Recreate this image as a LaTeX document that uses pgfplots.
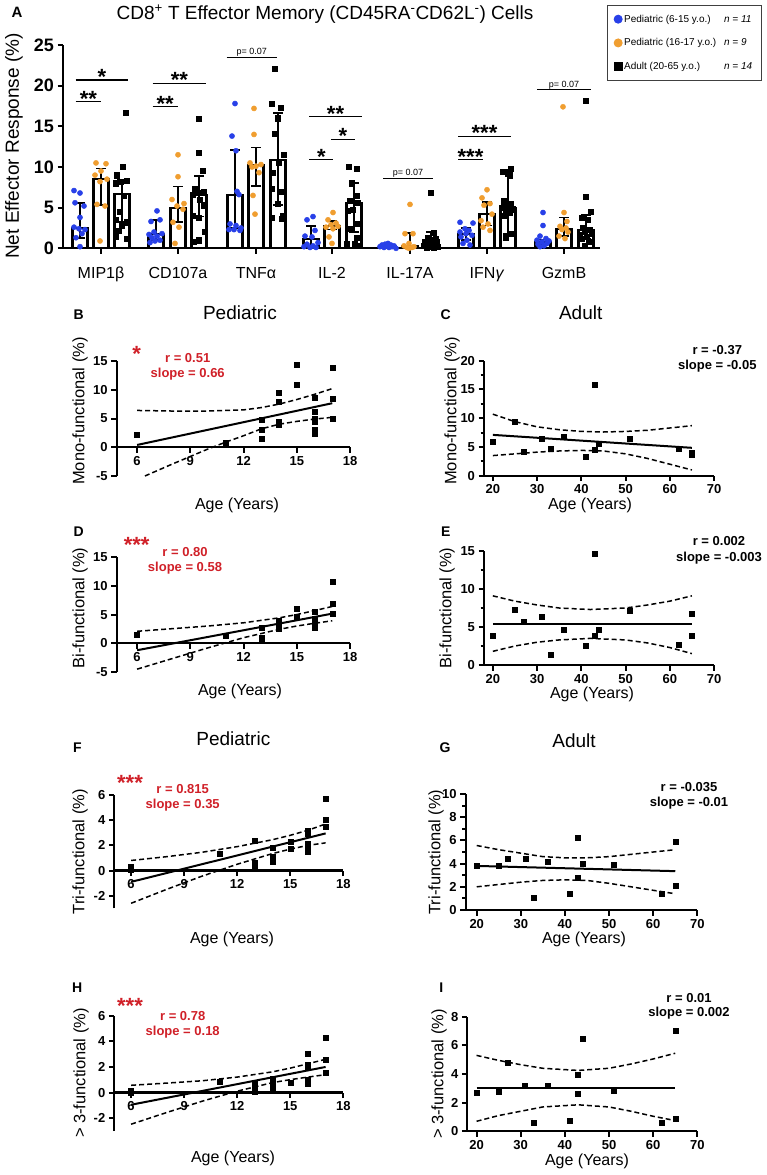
\documentclass[border=0pt]{standalone}
\usepackage{pgfplots}
\pgfplotsset{compat=1.18}
\usepackage{fontspec}
\setmainfont{Liberation Sans}
\definecolor{pblue}{RGB}{40,64,232}
\definecolor{porange}{RGB}{240,158,48}
\definecolor{sigred}{RGB}{208,32,40}
\newcommand{\fs}[1]{\fontsize{#1}{#1}\selectfont}
\pgfplotsset{
 gp/.style={scale only axis, clip=false,
   axis x line*=bottom, axis y line*=left,
   axis line style={line width=2.3pt,-},
   every inner x axis line/.append style={-},
   every outer x axis line/.append style={-},
   every inner y axis line/.append style={-},
   every outer y axis line/.append style={-},
   tick style={line width=2pt, black},
   major tick length=5.5pt, minor tick length=3.5pt, tick align=outside,
   /pgf/number format/assume math mode=true,
   tick label style={font=\fs{13}\bfseries},
   hide obscured x ticks=false, hide obscured y ticks=false,
 },
 sq/.style={only marks, mark=square*, mark size=2.5pt, black},
 reg/.style={no marks, line width=2pt, black},
 ci/.style={no marks, line width=1.5pt, black, dash pattern=on 5pt off 3pt},
 barA/.style={ybar, bar shift=0pt, bar width=15, fill=white, draw=black, line width=2.2pt, forget plot,
  error bars/.cd, y dir=both, y explicit, error bar style={line width=1.7pt, black},
  error mark options={rotate=90, mark size=5pt, line width=1.7pt, black}},
}
\newcommand{\sig}[4]{\draw[line width=1.1pt] (axis cs:#1,#3) -- (axis cs:#2,#3);
  \node[anchor=base, font=\fs{22}\bfseries, inner sep=0pt, yshift=-4.6pt] at (axis cs:{(#1+#2)/2},#3) {#4};}
\newcommand{\pval}[3]{\draw[line width=0.9pt] (axis cs:#1,#3) -- (axis cs:#2,#3);
  \node[anchor=base, font=\fs{9}, inner sep=0pt, yshift=2.5pt] at (axis cs:{(#1+#2)/2},#3) {p= 0.07};}
\begin{document}
\begin{tikzpicture}
\path[use as bounding box] (0pt,0pt) rectangle (767pt,-1175pt);
% ---------------- Panel A ----------------
\node[font=\fs{15}\bfseries] at (17pt,-12.5pt) {A};
\node[font=\fs{19}] at (325pt,-14pt) {CD8\textsuperscript{+} T Effector Memory (CD45RA\textsuperscript{-}CD62L\textsuperscript{-}) Cells};
\node[font=\fs{19}, rotate=90] at (14pt,-146pt) {Net Effector Response (\%)};
\begin{axis}[gp, at={(63pt,-248.3pt)}, anchor=south west, width=537pt, height=203.3pt,
  xmin=63, xmax=600, ymin=0, ymax=25, ytick={0,5,...,25},
  xtick={101,178,256,332,410,487,564},
  xticklabels={MIP1β, CD107a, TNFα, IL-2, IL-17A, IFN\textit{γ}, GzmB},
  xticklabel style={font=\fs{16}\mdseries, yshift=-10pt},
  yticklabel style={font=\fs{18}\bfseries},
  legend style={at={(1.0125,1.195)}, anchor=north west, draw=black!75, line width=0.9pt,
    font=\fs{10}, row sep=11pt, inner sep=7pt, cells={anchor=west}},
  every legend image post/.append style={mark size=4pt},
  legend cell align=left]
\addplot[barA]
  coordinates {(80,2.46) += (0,3.14) -= (0,1.16) (156,1.72) += (0,1.76) -= (0,0.72)
  (235,6.6) += (0,5.5) -= (0,4.1) (311,1.15) += (0,1.55) -= (0,0.85)
  (388,0.3) += (0,0.2) -= (0,0.2) (466,1.76) += (0,0.74) -= (0,0.76)
  (543,0.8) += (0,0.3) -= (0,0.4)};
\addplot[barA]
  coordinates {(101,8.52) += (0,1.28) -= (0,3.22) (178,5.0) += (0,2.6) -= (0,1.8)
  (256,10.2) += (0,2.2) -= (0,2.5) (332,2.75) += (0,0.6) -= (0,0.45)
  (410,0.3) += (0,1.55) -= (0,0.2) (487,4.2) += (0,1.5) -= (0,1.4)
  (564,2.4) += (0,1.4) -= (0,0.9)};
\addplot[barA]
  coordinates {(122,6.64) += (0,1.76) -= (0,3.44) (199,6.56) += (0,2.34) -= (0,2.66)
  (278,10.9) += (0,5.7) -= (0,5.6) (354,5.6) += (0,2.4) -= (0,3.6)
  (431,1.0) += (0,1.0) -= (0,0.7) (508,4.9) += (0,4.7) -= (0,3.1)
  (586,2.25) += (0,1.85) -= (0,1.05)};
\addplot[only marks, mark=*, mark size=2.6pt, color=pblue] coordinates {
 (74,7.1)(80,6.8)(75,5.6)(84,5.2)(80,3.8)(74,2.6)(79,2.4)(85,2.3)(82,1.8)(76,1.3)(80,0.2)
 (157,4.6)(160,3.5)(151,3.3)(154,2.0)(162,1.8)(149,1.7)(157,1.5)(152,1.3)(160,1.0)(155,0.9)(150,0.7)
 (235,17.8)(232,13.8)(236,12.0)(237,7.0)(239,6.6)(230,3.0)(236,2.8)(241,2.5)(229,2.3)(234,2.3)(240,2.2)
 (313,3.9)(307,3.5)(315,2.2)(305,1.5)(312,1.4)(318,0.7)(307,0.5)(313,0.3)(304,0.2)(316,0.1)(310,0.1)
 (388,0.6)(385,0.5)(391,0.4)(382,0.4)(394,0.3)(387,0.3)(380,0.2)(392,0.2)(384,0.1)(389,0.1)(396,0.0)
 (460,3.2)(473,3.1)(465,2.4)(469,2.2)(460,2.0)(466,1.8)(472,1.6)(461,1.4)(467,1.0)(463,0.6)(470,0.4)
 (543,4.4)(543,2.8)(540,1.5)(546,1.2)(537,1.0)(549,0.9)(542,0.8)(547,0.6)(538,0.5)(544,0.3)(540,0.2)};
\addlegendentry{\makebox[100pt][l]{Pediatric (6-15 y.o.)}\textit{n = 11}}
\addplot[only marks, mark=*, mark size=2.6pt, color=porange] coordinates {
 (96,10.5)(106,10.4)(101,9.5)(95,9.0)(107,8.5)(100,8.2)(97,5.4)(105,5.2)(100,0.9)
 (178,11.5)(178,8.8)(172,6.0)(184,5.5)(177,5.2)(183,4.8)(173,3.2)(179,2.6)(175,0.6)
 (254,17.2)(254,14.0)(250,10.5)(261,10.3)(256,10.1)(252,10.0)(259,9.3)(253,6.5)(255,4.2)
 (333,4.4)(328,3.5)(336,3.1)(331,2.9)(338,2.7)(326,2.6)(333,2.4)(329,1.4)(332,0.6)
 (410,5.4)(405,1.8)(413,1.8)(409,0.6)(404,0.3)(414,0.2)(407,0.1)(412,0.1)(409,0.0)
 (487,7.2)(482,6.2)(490,5.5)(484,5.3)(492,4.2)(481,3.4)(488,3.0)(483,2.6)(490,2.2)
 (563,17.4)(564,4.4)(567,3.3)(560,2.7)(566,2.5)(562,2.3)(568,2.0)(559,1.5)(565,1.2)};
\addlegendentry{\makebox[100pt][l]{Pediatric (16-17 y.o.)}\textit{n = 9}}
\addplot[only marks, mark=square*, mark size=2.6pt, color=black] coordinates {
 (126,16.7)(123,10.0)(117,9.0)(127,8.3)(121,8.2)(116,8.0)(124,6.5)(120,4.5)(116,3.5)(127,3.2)(122,2.8)(119,2.2)(116,1.5)(127,1.2)
 (199,15.9)(199,11.8)(203,9.5)(195,7.3)(204,6.9)(199,6.8)(193,6.6)(200,6.0)(204,5.3)(193,4.0)(199,3.8)(205,2.0)(199,1.0)(194,0.8)
 (275,22.1)(272,17.8)(281,17.3)(278,16.0)(275,14.1)(284,11.5)(279,10.5)(273,9.3)(272,7.3)(282,7.0)(278,5.5)(283,4.0)(272,3.8)(282,3.6)
 (349,10.0)(357,9.8)(352,8.0)(357,6.5)(350,5.9)(358,5.6)(353,4.7)(348,4.6)(358,3.0)(351,2.4)(357,1.3)(347,0.6)(355,0.5)(360,0.3)
 (431,6.8)(434,1.9)(428,1.3)(436,1.2)(431,1.0)(425,0.8)(437,0.7)(429,0.5)(434,0.4)(424,0.3)(431,0.2)(438,0.2)(427,0.1)(434,0.1)
 (511,9.8)(503,9.4)(508,9.2)(510,9.0)(504,5.8)(511,5.5)(507,5.2)(502,5.0)(513,4.8)(506,4.6)(510,4.4)(504,4.0)(512,1.8)(506,1.3)
 (586,18.2)(586,6.3)(591,4.5)(582,3.8)(588,3.5)(583,2.5)(590,2.3)(585,2.0)(592,1.8)(580,1.6)(587,1.4)(582,1.2)(589,0.8)(585,0.3)};
\addlegendentry{\makebox[100pt][l]{Adult (20-65 y.o.)}\textit{n = 14}}
\sig{75.7}{101}{18.0}{**}
\sig{75.7}{128}{20.7}{*}
\sig{152.7}{177.7}{17.4}{**}
\sig{152.7}{206}{20.3}{**}
\pval{226.7}{276.7}{23.5}
\sig{309.3}{333.3}{10.9}{*}
\sig{331}{355}{13.4}{*}
\sig{309.3}{361.7}{16.2}{**}
\pval{383}{433}{8.6}
\sig{458.3}{482.7}{10.9}{***}
\sig{458.3}{510.7}{13.8}{***}
\pval{537.3}{590.7}{19.5}
\end{axis}
% ---------------- Panel B ----------------
\node[font=\fs{14}\bfseries] at (78.7pt,-315pt) {B};
\node[font=\fs{19}] at (240pt,-312.7pt) {Pediatric};
\node[font=\fs{16.5}, rotate=90] at (80pt,-411pt) {Mono-functional (\%)};
\node[font=\fs{16}] at (237pt,-505pt) {Age (Years)};
\node[anchor=base, font=\fs{22}\bfseries, text=sigred, inner sep=0pt] at (136.7pt,-361pt) {*};
\node[font=\fs{13}\bfseries, text=sigred] at (187.7pt,-358.3pt) {r = 0.51};
\node[font=\fs{13}\bfseries, text=sigred] at (187.7pt,-374pt) {slope = 0.66};
\begin{axis}[gp, at={(116.7pt,-476pt)}, anchor=south west, width=233.3pt, height=115pt,
  xmin=4.85, xmax=18, ymin=-5, ymax=15, xtick={6,9,...,18}, ytick={-5,0,...,15}, axis x line*=middle]
\addplot[ci] coordinates {(6,6.4)(8,6.3)(10,6.3)(12,6.5)(13,6.9)(14,7.5)(15,8.3)(16,9.2)(17,10.2)};
\addplot[ci] coordinates {(6.44,-5)(8,-2.9)(10,-0.3)(11,0.9)(12,2.0)(13,3.2)(14,4.0)(15,4.5)(16,4.9)(17,5.2)};
\addplot[reg] coordinates {(6,0.4)(17,7.66)};
\addplot[sq] coordinates {(6,2.2)(11,0.8)(13,4.8)(13,3.1)(13,1.5)(14,9.5)(14,8.0)(14,4.5)(14,4.0)(15,14.4)(15,10.9)(16,8.6)(16,6.1)(16,5.0)(16,4.5)(16,3.0)(16,2.4)(17,13.8)(17,8.5)(17,4.9)};
\end{axis}
% ---------------- Panel C ----------------
\node[font=\fs{14}\bfseries] at (445.7pt,-315pt) {C};
\node[font=\fs{19}] at (580.7pt,-312.7pt) {Adult};
\node[font=\fs{16.5}, rotate=90] at (452pt,-411pt) {Mono-functional (\%)};
\node[font=\fs{16}] at (590pt,-505pt) {Age (Years)};
\node[font=\fs{13}\bfseries] at (717.3pt,-350pt) {r = -0.37};
\node[font=\fs{13}\bfseries] at (717.3pt,-366pt) {slope = -0.05};
\begin{axis}[gp, at={(484pt,-475.7pt)}, anchor=south west, width=230pt, height=115pt,
  xmin=18, xmax=70, ymin=0, ymax=20, xtick={20,30,...,70}, ytick={0,5,...,20}, minor y tick num=1]
\addplot[ci] coordinates {(20,10.7)(25,9.4)(30,8.5)(35,8.0)(40,7.7)(45,7.6)(50,7.7)(55,7.9)(60,8.3)(65,8.7)};
\addplot[ci] coordinates {(20,3.5)(25,3.8)(30,4.1)(35,4.3)(40,4.4)(45,4.3)(50,3.8)(55,3.0)(60,2.0)(65,1.0)};
\addplot[reg] coordinates {(20,7.1)(65,4.85)};
\addplot[sq] coordinates {(20,5.86)(25,9.4)(27,4.1)(31,6.4)(33,4.65)(36,6.7)(41,3.3)(43,15.9)(43,4.5)(44,5.6)(51,6.4)(62,4.7)(65,4.0)(65,3.6)};
\end{axis}
% ---------------- Panel D ----------------
\node[font=\fs{14}\bfseries] at (78.7pt,-531.7pt) {D};
\node[font=\fs{16.5}, rotate=90] at (80pt,-608pt) {Bi-functional (\%)};
\node[font=\fs{16}] at (240pt,-691.7pt) {Age (Years)};
\node[anchor=base, font=\fs{22}\bfseries, text=sigred, inner sep=0pt] at (136.7pt,-552pt) {***};
\node[font=\fs{13}\bfseries, text=sigred] at (185pt,-551.7pt) {r = 0.80};
\node[font=\fs{13}\bfseries, text=sigred] at (185pt,-568.3pt) {slope = 0.58};
\begin{axis}[gp, at={(116.7pt,-672pt)}, anchor=south west, width=233.3pt, height=114.7pt,
  xmin=4.85, xmax=18, ymin=-5, ymax=15, xtick={6,9,...,18}, ytick={-5,0,...,15}, axis x line*=middle]
\addplot[ci] coordinates {(6,2.1)(8,2.56)(10,3.02)(12,3.58)(14,4.44)(15,5.02)(16,5.7)(17,6.43)};
\addplot[ci] coordinates {(6,-4.5)(8,-2.64)(10,-0.78)(12,0.98)(14,2.44)(15,3.02)(16,3.5)(17,3.93)};
\addplot[reg] coordinates {(6,-1.2)(17,5.18)};
\addplot[sq] coordinates {(6,1.45)(11,1.4)(13,2.8)(13,1.0)(13,0.6)(14,4.0)(14,3.5)(14,3.0)(14,2.5)(15,6.1)(15,4.7)(16,5.5)(16,4.3)(16,4.0)(16,3.8)(16,3.3)(16,2.8)(17,10.7)(17,6.9)(17,5.1)};
\end{axis}
% ---------------- Panel E ----------------
\node[font=\fs{14}\bfseries] at (445.7pt,-531.7pt) {E};
\node[font=\fs{16.5}, rotate=90] at (447pt,-608pt) {Bi-functional (\%)};
\node[font=\fs{16}] at (592pt,-694pt) {Age (Years)};
\node[font=\fs{13}\bfseries] at (719pt,-541pt) {r = 0.002};
\node[font=\fs{13}\bfseries] at (719pt,-557.7pt) {slope = -0.003};
\begin{axis}[gp, at={(484pt,-665pt)}, anchor=south west, width=230pt, height=114pt,
  xmin=18, xmax=70, ymin=0, ymax=15, xtick={20,30,...,70}, ytick={0,5,...,15}, minor y tick num=1]
\addplot[ci] coordinates {(20,9.1)(25,8.4)(30,7.9)(35,7.5)(42,7.3)(50,7.5)(55,7.9)(60,8.4)(65,9.1)};
\addplot[ci] coordinates {(20,1.8)(25,2.5)(30,3.0)(35,3.3)(42,3.5)(50,3.3)(55,2.9)(60,2.3)(65,1.5)};
\addplot[reg] coordinates {(20,5.4)(65,5.4)};
\addplot[sq] coordinates {(20,3.86)(25,7.3)(27,5.7)(31,6.4)(33,1.4)(36,4.7)(41,2.5)(43,14.7)(43,3.8)(44,4.6)(51,7.1)(62,2.7)(65,6.7)(65,3.8)};
\end{axis}
% ---------------- Panel F ----------------
\node[font=\fs{14}\bfseries] at (77.3pt,-747.3pt) {F};
\node[font=\fs{19}] at (233.3pt,-738.3pt) {Pediatric};
\node[font=\fs{16.5}, rotate=90] at (80pt,-851.7pt) {Tri-functional (\%)};
\node[font=\fs{16}] at (232pt,-939.3pt) {Age (Years)};
\node[anchor=base, font=\fs{22}\bfseries, text=sigred, inner sep=0pt] at (130pt,-790pt) {***};
\node[font=\fs{13}\bfseries, text=sigred] at (182.7pt,-789.3pt) {r = 0.815};
\node[font=\fs{13}\bfseries, text=sigred] at (182.7pt,-805pt) {slope = 0.35};
\begin{axis}[gp, at={(114.3pt,-908.3pt)}, anchor=south west, width=229pt, height=113.3pt,
  xmin=5.05, xmax=18, ymin=-3, ymax=6, xtick={6,9,...,18}, ytick={-2,0,...,6}, axis x line*=middle]
\addplot[ci] coordinates {(6,0.8)(8,1.1)(10,1.45)(12,1.9)(14,2.45)(15,2.8)(16,3.2)(17,3.7)};
\addplot[ci] coordinates {(6,-2.6)(8,-1.5)(10,-0.45)(12,0.5)(14,1.35)(15,1.7)(16,2.0)(17,2.2)};
\addplot[reg] coordinates {(6,-0.9)(17,2.95)};
\addplot[sq] coordinates {(6,0.3)(6,0.1)(11,1.3)(13,2.35)(13,0.65)(13,0.4)(14,1.85)(14,1.1)(14,0.9)(14,0.7)(15,2.3)(15,1.75)(16,3.2)(16,2.9)(16,2.1)(16,1.8)(16,1.5)(17,5.7)(17,4.0)(17,3.5)};
\end{axis}
% ---------------- Panel G ----------------
\node[font=\fs{14}\bfseries] at (445pt,-747.3pt) {G};
\node[font=\fs{19}] at (574pt,-741pt) {Adult};
\node[font=\fs{16.5}, rotate=90] at (436pt,-852pt) {Tri-functional (\%)};
\node[font=\fs{16}] at (584pt,-939.3pt) {Age (Years)};
\node[font=\fs{13}\bfseries] at (689pt,-787.3pt) {r = -0.035};
\node[font=\fs{13}\bfseries] at (689pt,-803.3pt) {slope = -0.01};
\begin{axis}[gp, at={(465.7pt,-910pt)}, anchor=south west, width=231.6pt, height=116pt,
  xmin=17.5, xmax=70, ymin=0, ymax=10, xtick={20,30,...,70}, ytick={0,2,...,10}, minor y tick num=1]
\addplot[ci] coordinates {(20,5.56)(25,5.2)(30,4.9)(35,4.6)(40,4.5)(45,4.5)(50,4.6)(55,4.8)(60,5.0)(65,5.2)};
\addplot[ci] coordinates {(20,2.0)(25,2.2)(30,2.4)(35,2.55)(40,2.6)(45,2.55)(50,2.3)(55,2.0)(60,1.7)(65,1.4)};
\addplot[reg] coordinates {(20,3.8)(65,3.35)};
\addplot[sq] coordinates {(20,3.8)(25,3.8)(27,4.45)(31,4.45)(33,1.06)(36,4.2)(41,1.4)(43,6.25)(43,2.76)(44,4.0)(51,3.9)(62,1.4)(65,5.85)(65,2.1)};
\end{axis}
% ---------------- Panel H ----------------
\node[font=\fs{14}\bfseries] at (77.3pt,-987.3pt) {H};
\node[font=\fs{16.5}, rotate=90] at (81pt,-1073pt) {> 3-functional (\%)};
\node[font=\fs{16}] at (233pt,-1158.3pt) {Age (Years)};
\node[anchor=base, font=\fs{22}\bfseries, text=sigred, inner sep=0pt] at (130pt,-1013.5pt) {***};
\node[font=\fs{13}\bfseries, text=sigred] at (182.7pt,-1016pt) {r = 0.78};
\node[font=\fs{13}\bfseries, text=sigred] at (182.7pt,-1031.7pt) {slope = 0.18};
\begin{axis}[gp, at={(114.3pt,-1131pt)}, anchor=south west, width=229pt, height=115.3pt,
  xmin=5.05, xmax=18, ymin=-3, ymax=6, xtick={6,9,...,18}, ytick={-2,0,...,6}, axis x line*=middle]
\addplot[ci] coordinates {(6,0.57)(8,0.74)(10,0.92)(12,1.21)(14,1.62)(15,1.91)(16,2.25)(17,2.6)};
\addplot[ci] coordinates {(6,-2.47)(8,-1.56)(10,-0.68)(12,0.11)(14,0.78)(15,1.01)(16,1.21)(17,1.4)};
\addplot[reg] coordinates {(6,-0.95)(17,2.0)};
\addplot[sq] coordinates {(6,0.13)(6,0.0)(11,0.88)(13,0.7)(13,0.5)(13,0.3)(13,0.1)(14,1.1)(14,0.9)(14,0.5)(14,0.2)(15,0.8)(16,3.0)(16,2.2)(16,2.0)(16,1.0)(16,0.7)(17,4.3)(17,2.6)(17,1.55)};
\end{axis}
% ---------------- Panel I ----------------
\node[font=\fs{14}\bfseries] at (441.3pt,-987.3pt) {I};
\node[font=\fs{16.5}, rotate=90] at (439pt,-1074pt) {> 3-functional (\%)};
\node[font=\fs{16}] at (587pt,-1161pt) {Age (Years)};
\node[font=\fs{13}\bfseries] at (689pt,-997.7pt) {r = 0.01};
\node[font=\fs{13}\bfseries] at (689pt,-1013.3pt) {slope = 0.002};
\begin{axis}[gp, at={(467.3pt,-1131.3pt)}, anchor=south west, width=230pt, height=114.6pt,
  xmin=17.9, xmax=70, ymin=0, ymax=8, xtick={20,30,...,70}, ytick={0,2,...,8}]
\addplot[ci] coordinates {(20,5.3)(25,4.95)(30,4.65)(35,4.4)(43,4.25)(50,4.4)(55,4.7)(60,5.05)(65,5.45)};
\addplot[ci] coordinates {(20,0.7)(25,1.1)(30,1.4)(35,1.7)(43,1.85)(50,1.7)(55,1.4)(60,1.05)(65,0.75)};
\addplot[reg] coordinates {(20,3.05)(65,3.05)};
\addplot[sq] coordinates {(20,2.72)(25,2.8)(27,4.8)(31,3.2)(33,0.6)(36,3.15)(41,0.75)(43,3.95)(43,2.6)(44,6.5)(51,2.85)(62,0.6)(65,7.0)(65,0.9)};
\end{axis}
\end{tikzpicture}
\end{document}
